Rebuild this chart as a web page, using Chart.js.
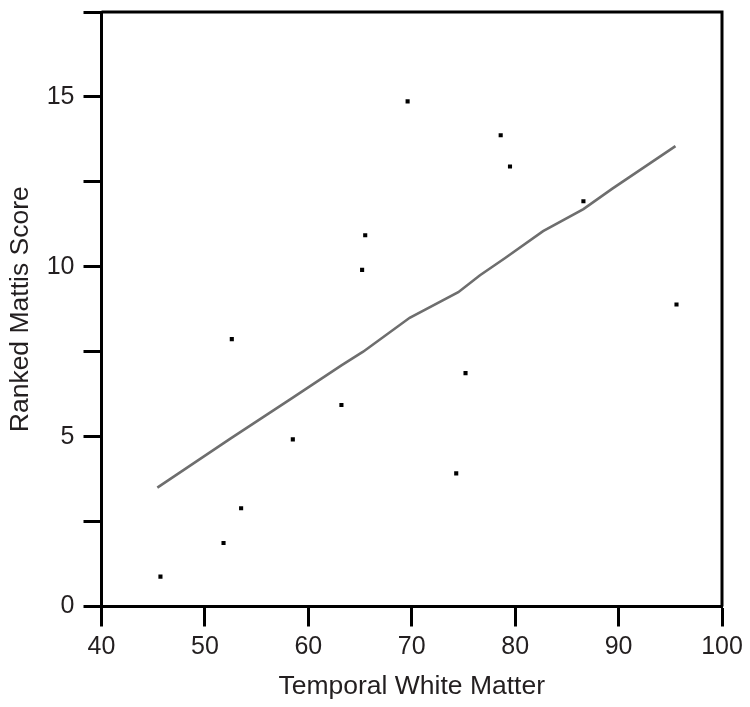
<!DOCTYPE html>
<html>
<head>
<meta charset="utf-8">
<script src="https://cdn.jsdelivr.net/npm/chart.js@4"></script>
<style>
html,body{margin:0;padding:0;background:#fff;}
#wrap{width:750px;height:707px;}
</style>
</head>
<body>
<div id="wrap"><canvas id="c" width="750" height="707"></canvas></div>
<script>
// Observed points (Temporal White Matter vs Ranked Mattis Score)
const whiteMatter = [45.7, 51.8, 53.5, 52.6, 58.5, 63.2, 65.5, 65.2, 69.6, 78.6, 79.5, 86.6, 95.6, 75.2, 74.3];
const mattisRank  = [0.88, 1.87, 2.89, 7.87, 4.92, 5.93, 10.93, 9.91, 14.87, 13.87, 12.95, 11.93, 8.89, 6.87, 3.92];

// Fitted (smoothed) trend line
const fitX = [45.4, 52.5, 58.5, 63.2, 65.3, 69.8, 74.5, 76.6, 79.0, 82.7, 86.6, 89.4, 95.5];
const fitY = [3.50, 4.95, 6.15, 7.10, 7.50, 8.50, 9.25, 9.75, 10.25, 11.05, 11.70, 12.30, 13.55];

const xTicks = [40, 50, 60, 70, 80, 90, 100];
const yLabelTicks = [0, 5, 10, 15];

const FONT = "'Liberation Sans', Arial, sans-serif";
const TXT = '#231f20';

const frame = {
  id: 'frame',
  afterDraw(chart) {
    const {ctx, chartArea: a} = chart;
    ctx.save();
    ctx.strokeStyle = '#000';
    ctx.lineWidth = 3;
    ctx.beginPath();
    ctx.moveTo(a.left, a.top);
    ctx.lineTo(a.right, a.top);
    ctx.lineTo(a.right, a.bottom);
    ctx.stroke();
    ctx.restore();
  }
};

new Chart(document.getElementById('c'), {
  type: 'scatter',
  data: {
    datasets: [
      {
        label: 'Fit',
        data: fitX.map((x, i) => ({x, y: fitY[i]})),
        showLine: true,
        borderColor: '#6e6e6e',
        borderWidth: 2.6,
        pointRadius: 0,
        fill: false,
        tension: 0
      },
      {
        label: 'Subjects',
        data: whiteMatter.map((x, i) => ({x, y: mattisRank[i]})),
        pointStyle: 'rect',
        pointRadius: 2.9,
        pointBorderWidth: 0,
        pointBackgroundColor: '#000',
        borderColor: '#000',
        backgroundColor: '#000'
      }
    ]
  },
  options: {
    responsive: false,
    animation: false,
    devicePixelRatio: 1,
    layout: {padding: {left: 0, top: 12, right: 28, bottom: 0}},
    plugins: {legend: {display: false}, tooltip: {enabled: false}},
    scales: {
      x: {
        type: 'linear',
        min: 40, max: 100,
        afterBuildTicks(s) { s.ticks = xTicks.map(v => ({value: v})); },
        afterFit(s) { s.height = 100.5; s.paddingLeft = 0; s.paddingRight = 0; },
        border: {display: true, color: '#000', width: 3},
        grid: {drawOnChartArea: false, drawTicks: true, tickLength: 20, tickWidth: 3, tickColor: '#000'},
        ticks: {color: TXT, font: {family: FONT, size: 25}, padding: 6, maxRotation: 0},
        title: {display: true, text: 'Temporal White Matter', color: TXT, font: {family: FONT, size: 26.5}, padding: {top: 0, bottom: 4}}
      },
      y: {
        type: 'linear',
        min: 0, max: 17.5,
        ticks: {
          stepSize: 2.5,
          color: TXT, font: {family: FONT, size: 25}, padding: 9,
          callback: v => yLabelTicks.includes(v) ? String(v) : ''
        },
        afterFit(s) { s.width = 101.5; s.paddingTop = 0; s.paddingBottom = 0; },
        border: {display: true, color: '#000', width: 3},
        grid: {drawOnChartArea: false, drawTicks: true, tickLength: 18, tickWidth: 3, tickColor: '#000'},
        title: {display: true, text: 'Ranked Mattis Score', color: TXT, font: {family: FONT, size: 26.5}, padding: {top: 5, bottom: 0}}
      }
    }
  },
  plugins: [frame]
});
</script>
</body>
</html>
